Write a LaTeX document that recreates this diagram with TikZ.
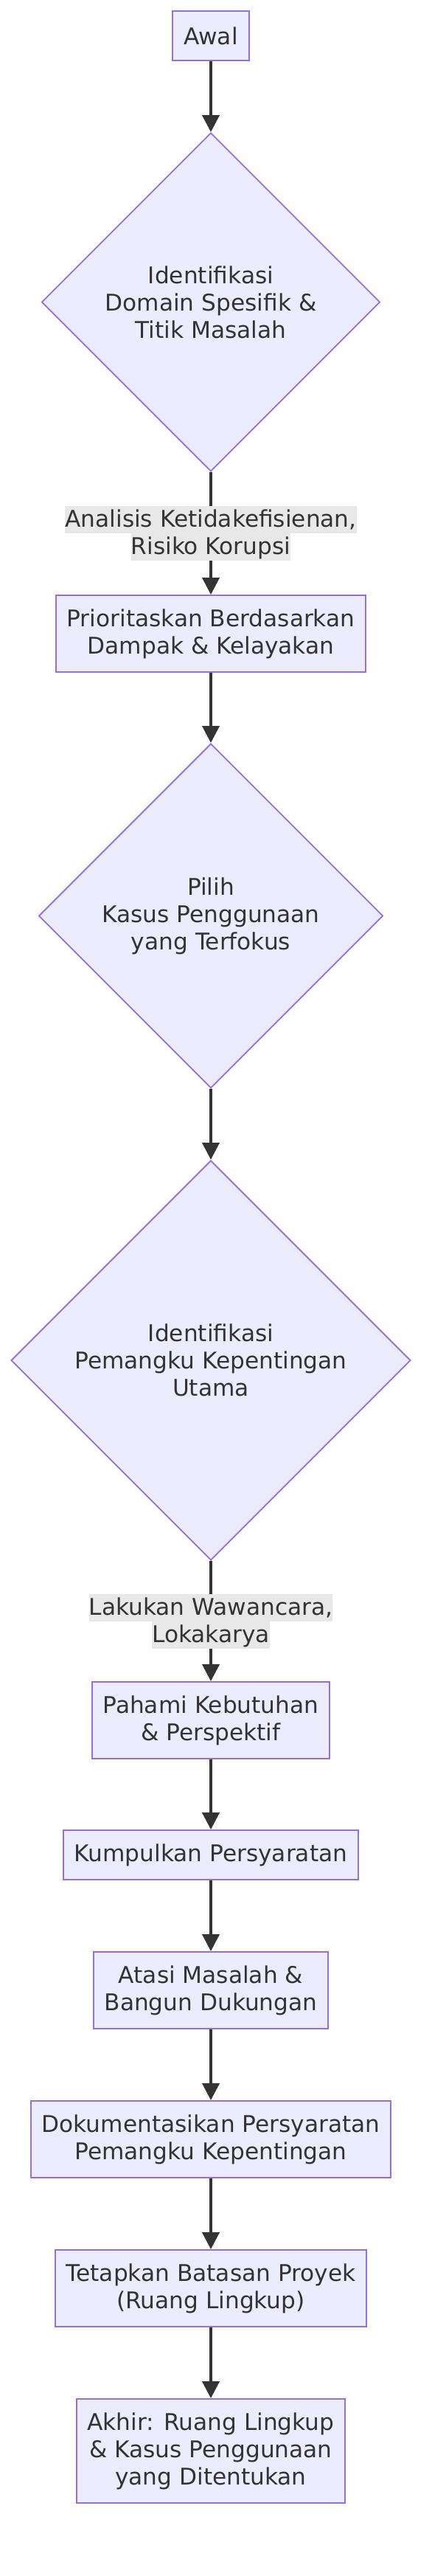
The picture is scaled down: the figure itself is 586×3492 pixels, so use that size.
\documentclass[tikz,border=0pt]{standalone}
\usepackage{fontspec}
\setmainfont{DejaVu Sans}
\usetikzlibrary{shapes.geometric,arrows.meta}
\definecolor{nodefill}{HTML}{ECECFF}
\definecolor{nodeline}{HTML}{9370DB}
\definecolor{edgeline}{HTML}{333333}
\definecolor{labelbg}{HTML}{E8E8E8}
\newcommand{\lblline}[1]{{\setlength{\fboxsep}{0pt}\colorbox{labelbg}{\rule[-8.5pt]{0pt}{37pt}#1}}}
\begin{document}
\begin{tikzpicture}[x=1pt,y=-1pt,
every node/.style={font=\fontsize{31.2}{37}\selectfont,text=edgeline,align=center},
procbox/.style={draw=nodeline,fill=nodefill,line width=1.9pt,inner xsep=15pt,inner ysep=0pt,minimum height=#1},
procbox/.default=104pt,
decbox/.style={diamond,aspect=1,draw=nodeline,fill=nodefill,line width=1.9pt,inner sep=0pt,minimum width=#1,minimum height=#1},
flow/.style={draw=edgeline,line width=3.8pt,-{Triangle[length=23pt,width=23pt]}},
elabel/.style={inner sep=0pt}]
\useasboundingbox (0,0) rectangle (586,3492);

\node[procbox=67pt] (awal) at (286,48.5) {Awal};
\node[decbox=459pt] (domain) at (286,409.5) {Identifikasi\\Domain Spesifik \&\\Titik Masalah};
\node[procbox] (prio) at (286,859) {Prioritaskan Berdasarkan\\Dampak \& Kelayakan};
\node[decbox=467pt] (kasus) at (286,1241.5) {Pilih\\Kasus Penggunaan\\yang Terfokus};
\node[decbox=542pt] (pemangku) at (286,1844) {Identifikasi\\Pemangku Kepentingan\\Utama};
\node[procbox] (pahami) at (286,2332) {Pahami Kebutuhan\\\& Perspektif};
\node[procbox=67pt] (kumpul) at (286,2514.5) {Kumpulkan Persyaratan};
\node[procbox] (atasi) at (286,2698) {Atasi Masalah \&\\Bangun Dukungan};
\node[procbox] (dokumen) at (286,2900) {Dokumentasikan Persyaratan\\Pemangku Kepentingan};
\node[procbox] (batas) at (286,3102) {Tetapkan Batasan Proyek\\(Ruang Lingkup)};
\node[procbox=141pt] (akhir) at (286,3322.5) {Akhir: Ruang Lingkup\\\& Kasus Penggunaan\\yang Ditentukan};

\draw[flow] (awal) -- (domain);
\draw[flow] (domain) -- node[elabel] {\lblline{Analisis Ketidakefisienan,}\\\lblline{Risiko Korupsi}} (prio);
\draw[flow] (prio) -- (kasus);
\draw[flow] (kasus) -- (pemangku);
\draw[flow] (pemangku) -- node[elabel] {\lblline{Lakukan Wawancara,}\\\lblline{Lokakarya}} (pahami);
\draw[flow] (pahami) -- (kumpul);
\draw[flow] (kumpul) -- (atasi);
\draw[flow] (atasi) -- (dokumen);
\draw[flow] (dokumen) -- (batas);
\draw[flow] (batas) -- (akhir);
\end{tikzpicture}
\end{document}
